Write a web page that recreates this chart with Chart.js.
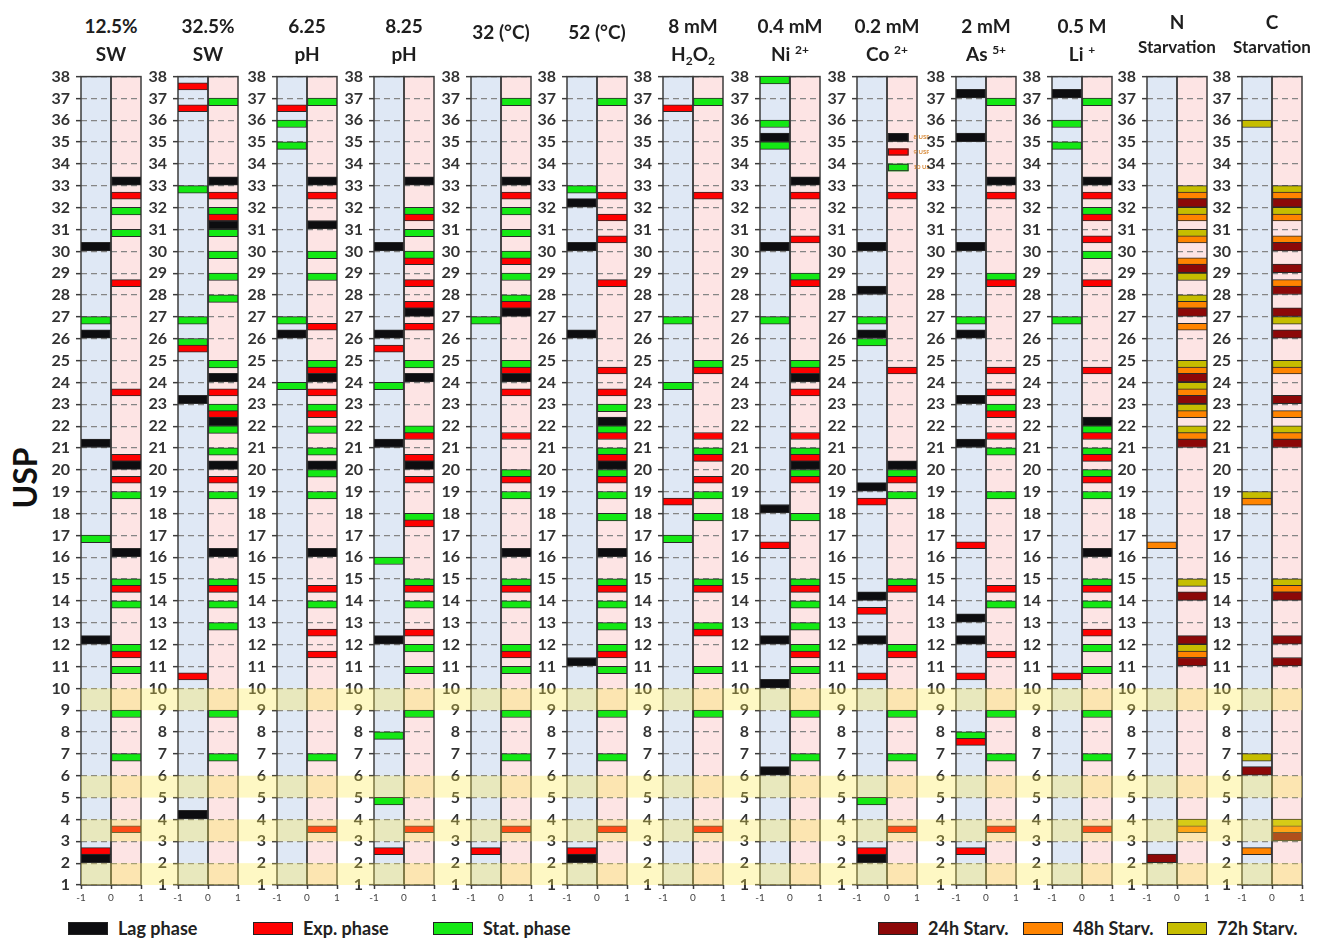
<!DOCTYPE html>
<html>
<head>
<meta charset="utf-8">
<script src="https://cdn.jsdelivr.net/npm/chart.js@4.4.1/dist/chart.umd.min.js"></script>
<style>
  html, body { margin: 0; padding: 0; background: #fff; }
  body { position: relative; width: 1320px; height: 938px; overflow: hidden; font-family: Lato, "Open Sans", sans-serif; }
  canvas { position: absolute; }
  .ttl { position: absolute; transform: translate(-50%, -50%); font-weight: 700; color: #1e1e1e; white-space: nowrap; line-height: 1; }
  .ttl sup { font-size: 12px; vertical-align: 7px; line-height: 0; }
  .ttl sub { font-size: 12px; vertical-align: -4px; line-height: 0; }
  .ytitle { position: absolute; left: 24px; top: 478px; transform: translate(-50%, -50%) rotate(-90deg); font-weight: 700; font-size: 32px; color: #111; }
  .lg { position: absolute; top: 917px; display: flex; align-items: center; font-weight: 700; font-size: 18px; color: #222; white-space: nowrap; }
  .lg i { display: inline-block; width: 38px; height: 11px; border: 1.5px solid #222; margin-right: 10px; }
</style>
</head>
<body>
<div class="ytitle">USP</div>
<script>
// USP numbers marked in each condition: [down (-1…0), up (0…1)]
const sw125Lag  = [[30, 26, 21, 12, 2], [33, 20, 16]];
const sw125Exp  = [[2], [32, 28, 23, 20, 19, 14, 11, 3]];
const sw125Stat = [[27, 17], [32, 31, 19, 15, 14, 12, 11, 9, 7]];

const sw325Lag  = [[23, 4], [33, 31, 24, 22, 20, 16]];
const sw325Exp  = [[37, 36, 25, 10], [32, 31, 23, 22, 19, 14]];
const sw325Stat = [[33, 27, 26], [37, 32, 31, 30, 29, 28, 25, 23, 22, 21, 19, 15, 14, 13, 9, 7]];

const ph625Lag  = [[26], [33, 31, 24, 20, 16]];
const ph625Exp  = [[36], [32, 26, 24, 23, 22, 14, 12, 11, 3]];
const ph625Stat = [[36, 35, 27, 24], [37, 30, 29, 25, 23, 22, 21, 20, 19, 14, 7]];

const ph825Lag  = [[30, 26, 21, 12], [33, 27, 24, 20]];
const ph825Exp  = [[25, 2], [31, 29, 28, 27, 26, 21, 20, 19, 17, 14, 12, 3]];
const ph825Stat = [[24, 16, 8, 5], [32, 31, 30, 25, 22, 18, 15, 14, 12, 11, 9]];

const t32Lag  = [[], [33, 27, 24, 16]];
const t32Exp  = [[2], [32, 29, 27, 24, 23, 21, 19, 14, 11, 3]];
const t32Stat = [[27], [37, 32, 31, 30, 29, 28, 25, 20, 19, 15, 14, 12, 11, 9, 7]];

const t52Lag  = [[32, 30, 26, 11, 2], [22, 20, 16]];
const t52Exp  = [[2], [32, 31, 30, 28, 24, 23, 21, 20, 19, 14, 11, 3]];
const t52Stat = [[33], [37, 23, 22, 21, 20, 19, 18, 15, 14, 13, 12, 11, 9, 7]];

const h2o2Lag  = [[], []];
const h2o2Exp  = [[36, 18], [32, 24, 21, 20, 19, 14, 12, 3]];
const h2o2Stat = [[27, 24, 17], [37, 25, 21, 19, 18, 15, 13, 11, 9]];

const niLag  = [[35, 30, 18, 12, 10, 6], [33, 24, 20]];
const niExp  = [[16], [32, 30, 28, 24, 23, 21, 20, 19, 14, 11]];
const niStat = [[38, 36, 35, 27], [29, 25, 21, 20, 18, 15, 14, 13, 12, 11, 9, 7]];

const coLag  = [[30, 28, 26, 19, 14, 12, 2], [20]];
const coExp  = [[18, 13, 10, 2], [32, 24, 19, 14, 11, 3]];
const coStat = [[27, 26, 5], [20, 19, 15, 12, 9, 7]];

const asLag  = [[37, 35, 30, 26, 23, 21, 13, 12], [33]];
const asExp  = [[16, 10, 7, 2], [32, 28, 24, 23, 22, 21, 14, 11, 3]];
const asStat = [[27, 8], [37, 29, 23, 21, 19, 14, 9, 7]];

const liLag  = [[37], [33, 22, 16]];
const liExp  = [[10], [32, 31, 30, 28, 24, 21, 20, 19, 14, 12, 3]];
const liStat = [[36, 35, 27], [37, 32, 30, 22, 21, 20, 19, 15, 14, 12, 11, 9, 7]];

const nStarv24 = [[2], [32, 29, 27, 24, 23, 21, 14, 12, 11]];
const nStarv48 = [[16], [32, 31, 30, 29, 27, 26, 24, 23, 22, 21, 11, 3]];
const nStarv72 = [[], [33, 32, 31, 29, 28, 25, 24, 23, 22, 15, 12, 4]];

const cStarv24 = [[6], [32, 30, 29, 28, 27, 26, 23, 21, 14, 12, 11, 3]];
const cStarv48 = [[18, 2], [32, 31, 30, 28, 24, 22, 21, 14, 3]];
const cStarv72 = [[36, 19, 7], [33, 32, 27, 25, 22, 15, 4]];

// Panel headings
const panelTitles = [
  ['12.5%', 'SW'], ['32.5%', 'SW'], ['6.25', 'pH'], ['8.25', 'pH'],
  ['32 (°C)'], ['52 (°C)'],
  ['8 mM', 'H<sub>2</sub>O<sub>2</sub>'], ['0.4 mM', 'Ni <sup>2+</sup>'],
  ['0.2 mM', 'Co <sup>2+</sup>'], ['2 mM', 'As <sup>5+</sup>'], ['0.5 M', 'Li <sup>+</sup>'],
  ['N', 'Starvation'], ['C', 'Starvation']
];

// Small key drawn inside the Co panel
const coKeyLabels = ['8 USP', '9 USP', '10 USP'];
const coKeyRows = [35, 34, 34];

// Bottom legend
const legendLabels = ['Lag phase', 'Exp. phase', 'Stat. phase', '24h Starv.', '48h Starv.', '72h Starv.'];

// ---- styling / layout ----
const SLOTS = {
  lag:  { off: 0.22, thick: 8.5 },
  exp:  { off: 0.55, thick: 7 },
  stat: { off: -0.16, thick: 7.5 }
};
const PHASE_SERIES = [
  { label: 'Lag phase',   color: '#0d0d10', slot: 'lag' },
  { label: 'Exp. phase',  color: '#ff0000', slot: 'exp' },
  { label: 'Stat. phase', color: '#14e814', slot: 'stat' }
];
const STARV_SERIES = [
  { label: '24h Starv.', color: '#8c0808', slot: 'lag' },
  { label: '48h Starv.', color: '#ff8400', slot: 'exp' },
  { label: '72h Starv.', color: '#c6bd00', slot: 'stat' }
];
const LEGEND_COLORS = ['#0d0d10', '#ff0000', '#14e814', '#8c0808', '#ff8400', '#c6bd00'];
const LEGEND_X = [68, 253, 433, 878, 1023, 1167];

const panelLeft = [81, 178, 277, 374, 471, 567, 663, 760, 857, 956, 1052, 1147, 1242];
const AXIS_W = 37, PANEL_W = 60, PAD_R = 12, PAD_T = 10, XAXIS_H = 22, PLOT_H = 814, TOP = 61;
const CW = AXIS_W + PANEL_W + PAD_R, CH = PAD_T + PLOT_H + XAXIS_H;
const DOWN_BG = '#dfe8f5', UP_BG = '#fde4e4', FRAME = '#3c3c3c';
const BANDS = [[1, 2], [3, 4], [5, 6], [9, 10]];
const BAND_FILL = 'rgba(252, 232, 72, 0.32)';

const panels = [
  { sets: [sw125Lag, sw125Exp, sw125Stat], series: PHASE_SERIES },
  { sets: [sw325Lag, sw325Exp, sw325Stat], series: PHASE_SERIES },
  { sets: [ph625Lag, ph625Exp, ph625Stat], series: PHASE_SERIES },
  { sets: [ph825Lag, ph825Exp, ph825Stat], series: PHASE_SERIES },
  { sets: [t32Lag, t32Exp, t32Stat], series: PHASE_SERIES },
  { sets: [t52Lag, t52Exp, t52Stat], series: PHASE_SERIES },
  { sets: [h2o2Lag, h2o2Exp, h2o2Stat], series: PHASE_SERIES },
  { sets: [niLag, niExp, niStat], series: PHASE_SERIES },
  { sets: [coLag, coExp, coStat], series: PHASE_SERIES, key: true },
  { sets: [asLag, asExp, asStat], series: PHASE_SERIES },
  { sets: [liLag, liExp, liStat], series: PHASE_SERIES },
  { sets: [nStarv24, nStarv48, nStarv72], series: STARV_SERIES, small: true },
  { sets: [cStarv24, cStarv48, cStarv72], series: STARV_SERIES, small: true }
];

function makeDataset(series, lists) {
  const slot = SLOTS[series.slot];
  const [down, up] = lists;
  const data = [
    ...down.map(n => ({ x: [-1, 0], y: n + slot.off })),
    ...up.map(n => ({ x: [0, 1], y: n + slot.off }))
  ];
  return {
    label: series.label,
    data,
    stack: 'marks',
    backgroundColor: series.color,
    borderColor: '#2a2a2a',
    borderWidth: 1,
    borderSkipped: false,
    barThickness: slot.thick
  };
}

// Two shaded columns with dark frames
const columnsPlugin = {
  id: 'columns',
  beforeDraw(chart) {
    const { ctx, scales: { x, y } } = chart;
    const t = y.getPixelForValue(38), b = y.getPixelForValue(1);
    const xl = x.getPixelForValue(-1), xm = x.getPixelForValue(0), xr = x.getPixelForValue(1);
    ctx.save();
    ctx.fillStyle = DOWN_BG; ctx.fillRect(xl, t, xm - xl, b - t);
    ctx.fillStyle = UP_BG;   ctx.fillRect(xm, t, xr - xm, b - t);
    ctx.restore();
  },
  beforeDatasetsDraw(chart) {
    const { ctx, scales: { x, y } } = chart;
    const t = y.getPixelForValue(38), b = y.getPixelForValue(1);
    const xl = x.getPixelForValue(-1), xm = x.getPixelForValue(0), xr = x.getPixelForValue(1);
    ctx.save();
    ctx.strokeStyle = FRAME; ctx.lineWidth = 1.5;
    ctx.strokeRect(xl, t, xm - xl, b - t);
    ctx.strokeRect(xm, t, xr - xm, b - t);
    ctx.restore();
  }
};

// Small in-panel key (Co panel)
const keyPlugin = {
  id: 'inkey',
  afterDatasetsDraw(chart, args, opts) {
    if (!opts || !opts.show) return;
    const { ctx, scales: { x, y } } = chart;
    const x0 = x.getPixelForValue(0.03), x1 = x.getPixelForValue(0.72);
    ctx.save();
    PHASE_SERIES.forEach((s, k) => {
      const slot = SLOTS[s.slot];
      const yc = y.getPixelForValue(coKeyRows[k] + slot.off);
      ctx.fillStyle = s.color;
      ctx.fillRect(x0, yc - slot.thick / 2, x1 - x0, slot.thick);
      ctx.strokeStyle = '#2a2a2a'; ctx.lineWidth = 1;
      ctx.strokeRect(x0 + 0.5, yc - slot.thick / 2 + 0.5, x1 - x0 - 1, slot.thick - 1);
      ctx.fillStyle = '#d98c3c';
      ctx.font = '700 6px Lato, sans-serif';
      ctx.textBaseline = 'middle';
      ctx.fillText(coKeyLabels[k], x1 + 5, yc);
    });
    ctx.restore();
  }
};

// Translucent horizontal bands over USP 1-2, 3-4, 5-6, 9-10
const bandsPlugin = {
  id: 'bands',
  afterDraw(chart, args, opts) {
    const { ctx, chartArea, scales: { y } } = chart;
    const left = opts.left == null ? chartArea.left : opts.left;
    const right = opts.right == null ? chartArea.right : opts.right;
    ctx.save();
    ctx.fillStyle = BAND_FILL;
    BANDS.forEach(([lo, hi]) => {
      const t = y.getPixelForValue(hi), b = y.getPixelForValue(lo);
      ctx.fillRect(left, t, right - left, b - t);
    });
    ctx.restore();
  }
};

panels.forEach((p, i) => {
  const cv = document.createElement('canvas');
  cv.width = CW; cv.height = CH;
  cv.style.width = CW + 'px'; cv.style.height = CH + 'px';
  cv.style.left = (panelLeft[i] - AXIS_W) + 'px';
  cv.style.top = TOP + 'px';
  document.body.appendChild(cv);

  const last = i === panels.length - 1;
  new Chart(cv, {
    type: 'bar',
    data: { datasets: p.sets.map((lists, k) => makeDataset(p.series[k], lists)) },
    options: {
      indexAxis: 'y',
      responsive: false,
      maintainAspectRatio: false,
      animation: false,
      events: [],
      devicePixelRatio: 1,
      layout: { padding: { top: PAD_T, right: PAD_R, left: 0, bottom: 0 } },
      scales: {
        x: {
          type: 'linear', min: -1, max: 1, offset: false,
          afterFit(s) { s.height = XAXIS_H; },
          ticks: { stepSize: 1, font: { family: 'Lato', size: 10 }, color: '#444', padding: 3 },
          grid: { offset: false, drawOnChartArea: false, tickLength: 4, tickColor: FRAME, tickWidth: 1.5, color: FRAME },
          border: { display: false }
        },
        y: {
          type: 'linear', min: 1, max: 38, offset: false,
          afterFit(s) { s.width = AXIS_W; },
          ticks: { stepSize: 1, autoSkip: false, font: { family: 'Lato', size: 16, weight: 'bold' }, color: '#333', padding: 6 },
          grid: { offset: false, color: '#858585', lineWidth: 1.3, tickLength: 5, tickColor: FRAME, tickWidth: 1.5, tickBorderDash: [] },
          border: { display: false, dash: [6, 4] }
        }
      },
      plugins: {
        legend: { display: false },
        tooltip: { enabled: false },
        bands: { left: i === 0 ? null : 0, right: last ? null : panelLeft[i + 1] - panelLeft[i] },
        inkey: { show: !!p.key }
      }
    },
    plugins: [columnsPlugin, keyPlugin, bandsPlugin]
  });

  // heading
  const cx = panelLeft[i] + PANEL_W / 2;
  const lines = panelTitles[i];
  const centers = p.small ? [21, 46] : (lines.length === 1 ? [31] : [25, 53]);
  lines.forEach((txt, k) => {
    const d = document.createElement('div');
    d.className = 'ttl';
    d.innerHTML = txt;
    d.style.left = cx + 'px';
    d.style.top = centers[k] + 'px';
    d.style.fontSize = (p.small && k === 1 ? 17 : 19) + 'px';
    document.body.appendChild(d);
  });
});

// bottom legend
legendLabels.forEach((txt, k) => {
  const d = document.createElement('div');
  d.className = 'lg';
  d.style.left = LEGEND_X[k] + 'px';
  const sw = document.createElement('i');
  sw.style.background = LEGEND_COLORS[k];
  d.appendChild(sw);
  d.appendChild(document.createTextNode(txt));
  document.body.appendChild(d);
});
</script>
</body>
</html>
